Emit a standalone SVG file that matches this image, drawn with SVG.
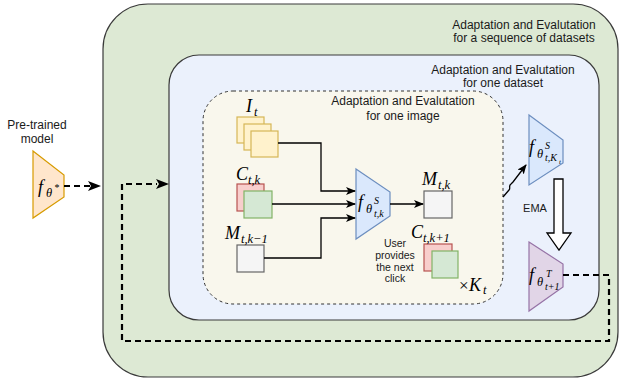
<svg xmlns="http://www.w3.org/2000/svg" width="619" height="383" viewBox="0 0 619 383">
<defs>
<style>
.lbl{font-family:"Liberation Sans",Arial,sans-serif;font-size:12px;fill:#1a1a1a;text-anchor:middle}
.sm{font-family:"Liberation Sans",Arial,sans-serif;font-size:10.5px;fill:#1a1a1a;text-anchor:middle}
.m{font-family:"Liberation Serif","Times New Roman",serif;font-style:italic;fill:#000}
.mb{font-size:18px}
.ms{font-size:12.5px}
.mss{font-size:10px}
.conn{fill:none;stroke:#000;stroke-width:1.3}
.dash{fill:none;stroke:#000;stroke-width:2.2;stroke-dasharray:6 4}
.gray{fill:#f5f5f5;stroke:#666666;stroke-width:1.2}
.yel{fill:#fff2cc;stroke:#d6b656;stroke-width:1.2}
.red{fill:#f8cecc;stroke:#b85450;stroke-width:1.2}
.grn{fill:#d5e8d4;stroke:#82b366;stroke-width:1.2}
</style>
<marker id="ah" viewBox="0 0 10 8" refX="9" refY="4" markerWidth="10" markerHeight="8" markerUnits="userSpaceOnUse" orient="auto">
<path d="M0,0 L10,4 L0,8 L2.5,4 z" fill="#000"/>
</marker>
</defs>

<g id="seq-box">
<rect x="103" y="4" width="515" height="373" rx="45" fill="#dde9d4" stroke="#3a3a3a" stroke-width="1.2"/>
<text class="lbl" x="524" y="29">Adaptation and Evalutation</text>
<text class="lbl" x="524" y="42">for a sequence of datasets</text>
</g>

<g id="dataset-box">
<rect x="169" y="55" width="430" height="265" rx="30" fill="#ebf1fc" stroke="#3a3a3a" stroke-width="1.2"/>
<text class="lbl" x="503" y="74">Adaptation and Evalutation</text>
<text class="lbl" x="503" y="87">for one dataset</text>
</g>

<g id="image-box">
<rect x="203" y="91" width="300" height="213" rx="30" fill="#f9f7ed" stroke="#333" stroke-width="1" stroke-dasharray="3 3"/>
<text class="lbl" x="403" y="105">Adaptation and Evalutation</text>
<text class="lbl" x="403" y="120">for one image</text>
</g>

<g id="pretrained">
<text class="lbl" x="37" y="129">Pre-trained</text>
<text class="lbl" x="37" y="143">model</text>
<polygon points="33,151 64,175 64,197 33,218" fill="#ffe6cc" stroke="#d79b00" stroke-width="1.2"/>
<text class="m mb" x="38" y="193">f</text>
<text class="m ms" x="46" y="197">θ</text>
<text class="m mss" x="54" y="191">*</text>
</g>

<g id="image-input">
<rect class="yel" x="237" y="117" width="27" height="26"/>
<rect class="yel" x="244" y="124" width="27" height="26"/>
<rect class="yel" x="251" y="131" width="27" height="26"/>
<text class="m mb" x="246" y="112">I</text>
<text class="m ms" x="254" y="116">t</text>
</g>

<g id="click-input">
<rect class="red" x="237" y="184" width="27" height="27"/>
<rect class="grn" x="244" y="191" width="28" height="27"/>
<text class="m mb" x="236" y="180">C</text>
<text class="m ms" x="248" y="184">t,k</text>
</g>

<g id="prev-mask">
<rect class="gray" x="237" y="245" width="27" height="27"/>
<text class="m mb" x="225" y="239">M</text>
<text class="m ms" x="241" y="243">t,k−1</text>
</g>

<g id="student">
<polygon points="356,169 390,192 390,216 356,239" fill="#dae8fc" stroke="#6c8ebf" stroke-width="1.2"/>
<text class="m mb" x="358" y="208">f</text>
<text class="m ms" x="366" y="213">θ</text>
<text class="m mss" x="374" y="204">S</text>
<text class="m mss" x="374" y="217">t,k</text>
</g>

<g id="mask-out">
<rect class="gray" x="424" y="191" width="28" height="27"/>
<text class="m mb" x="422" y="185">M</text>
<text class="m ms" x="438" y="189">t,k</text>
</g>

<g id="next-click">
<text class="sm" x="395" y="247">User</text>
<text class="sm" x="395" y="259">provides</text>
<text class="sm" x="395" y="271">the next</text>
<text class="sm" x="395" y="282">click</text>
<rect class="red" x="424" y="244" width="28" height="27"/>
<rect class="grn" x="432" y="251" width="26" height="27"/>
<text class="m mb" x="411" y="238">C</text>
<text class="m ms" x="423" y="242">t,k+1</text>
<text x="459" y="291" font-family="Liberation Serif,serif" font-size="17px">×</text>
<text class="m mb" x="469" y="291">K</text>
<text class="m ms" x="483" y="294">t</text>
</g>

<g id="student-final">
<polygon points="529,115 563,140 563,163 529,185" fill="#dae8fc" stroke="#6c8ebf" stroke-width="1.2"/>
<text class="m mb" x="529" y="153">f</text>
<text class="m ms" x="537" y="158">θ</text>
<text class="m mss" x="545" y="149">S</text>
<text class="m mss" x="545" y="161">t,K</text>
<text class="m" font-size="7px" x="559" y="164">t</text>
</g>

<g id="ema">
<polygon points="554,179 563,179 563,233 571,233 559,250 547,233 554,233" fill="#fff" stroke="#000" stroke-width="1.3"/>
<text class="lbl" style="font-size:11px" x="535" y="212">EMA</text>
</g>

<g id="teacher">
<polygon points="529,242 563,264 563,287 529,311" fill="#e1d5e7" stroke="#9673a6" stroke-width="1.2"/>
<text class="m mb" x="529" y="281">f</text>
<text class="m ms" x="537" y="286">θ</text>
<text class="m mss" x="546" y="277">T</text>
<text class="m mss" x="545" y="290">t+1</text>
</g>

<g id="connectors">
<path class="conn" d="M278,143 H321 V191 H355" marker-end="url(#ah)"/>
<path class="conn" d="M272,204 H355" marker-end="url(#ah)"/>
<path class="conn" d="M264,258 H321 V218 H355" marker-end="url(#ah)"/>
<path class="conn" d="M390,204 H423" marker-end="url(#ah)"/>
<path class="conn" d="M503,197 L509,190 C511,188 508,186 511,184 L513,182 L526,165" marker-end="url(#ah)"/>
<path class="dash" d="M64,186 H90"/>
<path d="M88,181 L101,186 L88,191 L91,186 z" fill="#000"/>
<path class="dash" d="M563,275 H609 V341 H122 V184 H157"/>
<path d="M156,179 L169,184 L156,189 L159,184 z" fill="#000"/>
</g>
</svg>
